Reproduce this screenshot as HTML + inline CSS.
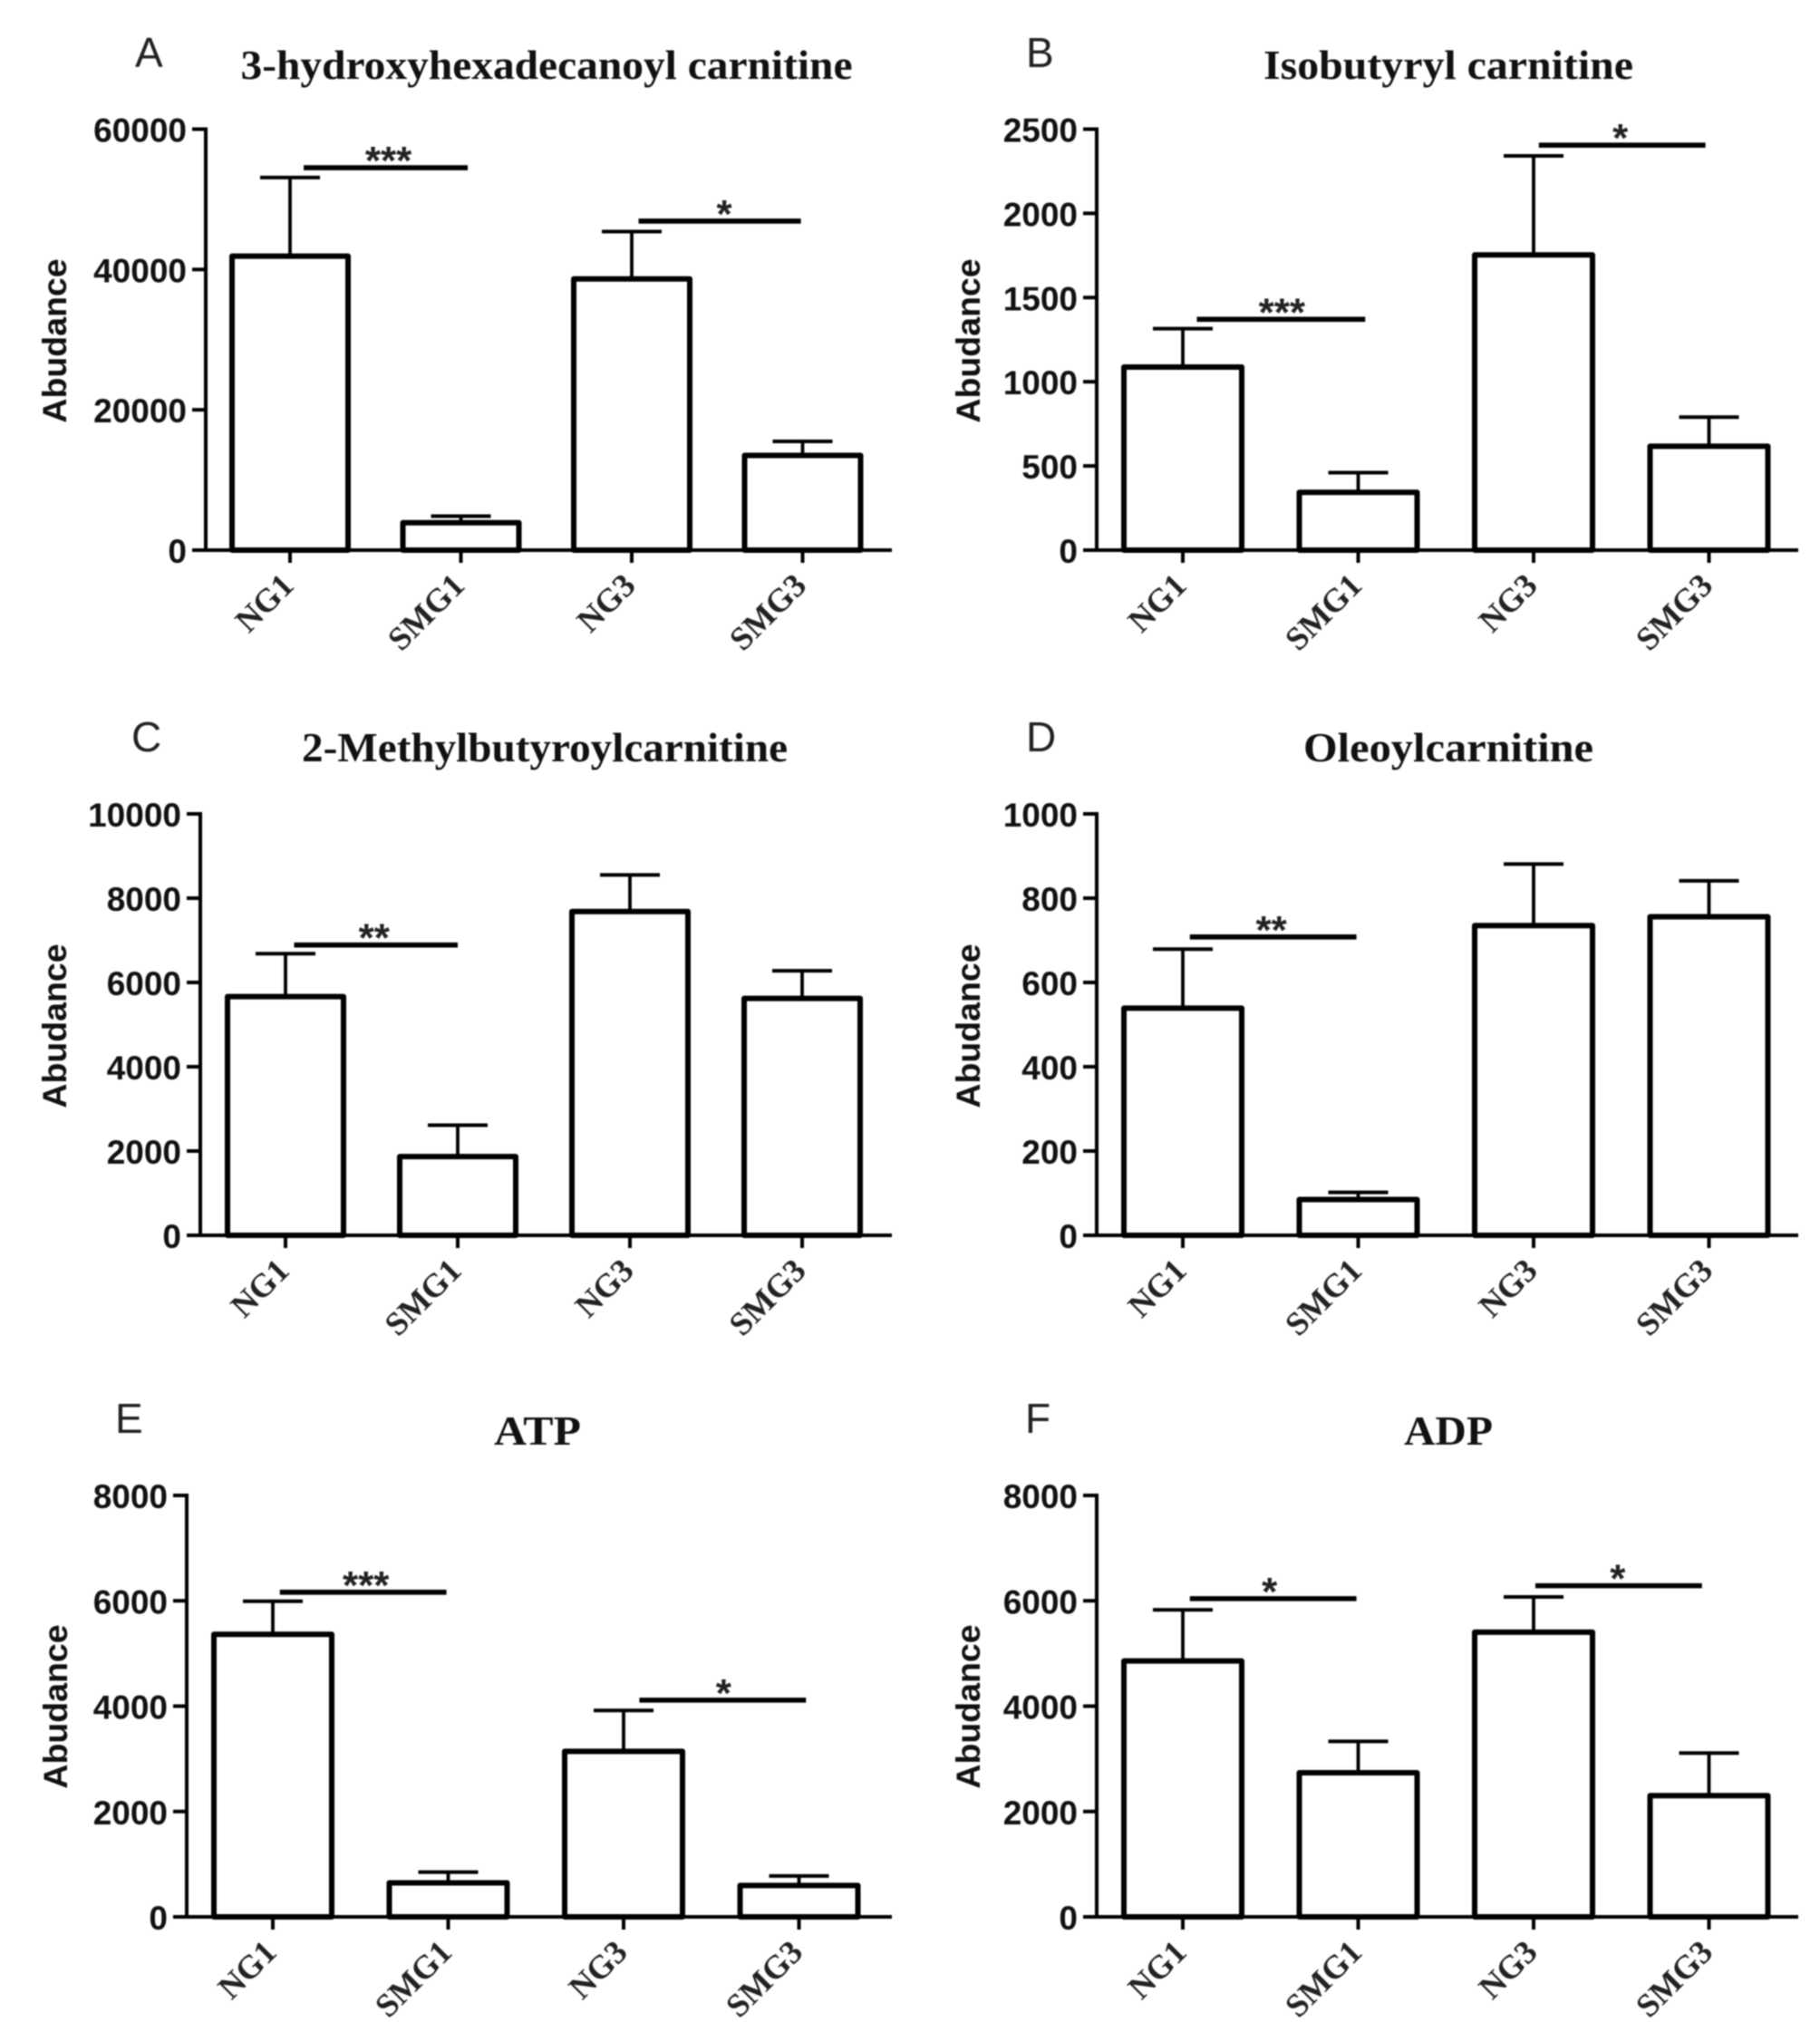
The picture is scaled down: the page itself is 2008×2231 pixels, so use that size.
<!DOCTYPE html>
<html>
<head>
<meta charset="utf-8">
<title>Abundance bar charts</title>
<style>
html,body{margin:0;padding:0;background:#fff;width:2008px;height:2231px;overflow:hidden}
svg{display:block;filter:blur(0.9px)}
.tick{font-family:"Liberation Sans",sans-serif;font-weight:700;font-size:37px;fill:#111}
.ylab{font-family:"Liberation Sans",sans-serif;font-weight:700;font-size:37.5px;fill:#111}
.title{font-family:"Liberation Serif",serif;font-weight:700;font-size:46px;fill:#111}
.cat{font-family:"Liberation Serif",serif;font-weight:700;font-size:36.5px;fill:#222}
.letter{font-family:"Liberation Sans",sans-serif;font-size:46px;fill:#222}
.star{font-family:"Liberation Sans",sans-serif;font-weight:700;font-size:44px;fill:#222}
</style>
</head>
<body>
<svg id="figure" xmlns="http://www.w3.org/2000/svg" width="2008" height="2231" viewBox="0 0 2008 2231"></svg>
<script>
const categories = ["NG1", "SMG1", "NG3", "SMG3"];

const ticksA = [0, 20000, 40000, 60000];
const meansA = [41900, 3900, 38650, 13500];
const errTopsA = [53100, 4850, 45400, 15500];
const sigFromA = [0.08, 2.04];
const sigToA = [1.04, 2.99];
const sigValA = [54500, 46900];
const sigTextA = ["***", "*"];

const ticksB = [0, 500, 1000, 1500, 2000, 2500];
const meansB = [1087, 343, 1753, 617];
const errTopsB = [1315, 460, 2341, 790];
const sigFromB = [0.08, 2.03];
const sigToB = [1.04, 2.98];
const sigValB = [1371, 2405];
const sigTextB = ["***", "*"];

const ticksC = [0, 2000, 4000, 6000, 8000, 10000];
const meansC = [5663, 1867, 7684, 5622];
const errTopsC = [6684, 2612, 8551, 6276];
const sigFromC = [0.05];
const sigToC = [1.0];
const sigValC = [6888];
const sigTextC = ["**"];

const ticksD = [0, 200, 400, 600, 800, 1000];
const meansD = [539, 85, 735, 756];
const errTopsD = [679, 102, 881, 841];
const sigFromD = [0.04];
const sigToD = [0.99];
const sigValD = [708];
const sigTextD = ["**"];

const ticksE = [0, 2000, 4000, 6000, 8000];
const meansE = [5363, 645, 3143, 596];
const errTopsE = [5992, 849, 3918, 776];
const sigFromE = [0.04, 2.09];
const sigToE = [0.99, 3.04];
const sigValE = [6163, 4114];
const sigTextE = ["***", "*"];

const ticksF = [0, 2000, 4000, 6000, 8000];
const meansF = [4857, 2735, 5404, 2302];
const errTopsF = [5829, 3331, 6073, 3110];
const sigFromF = [0.04, 2.01];
const sigToF = [0.99, 2.96];
const sigValF = [6041, 6286];
const sigTextF = ["*", "*"];

const panels = [
  {id:"a", letter:"A", title:"3-hydroxyhexadecanoyl carnitine", ticks:ticksA, means:meansA, errs:errTopsA, sf:sigFromA, st:sigToA, sv:sigValA, sl:sigTextA, so:[1,3],
   x0:227, xEnd:984, yTop:142.5, yBase:607, c0:320, step:188.5, hw:67, tx:603, ty:87, tw:675, lx:149, ly:74, yLabX:73, yLabY:376},
  {id:"b", letter:"B", title:"Isobutyryl carnitine", ticks:ticksB, means:meansB, errs:errTopsB, sf:sigFromB, st:sigToB, sv:sigValB, sl:sigTextB, so:[-1,-4],
   x0:1210, xEnd:1984, yTop:142.5, yBase:607, c0:1305, step:193.5, hw:68, tx:1598, ty:87, tw:408, lx:1132, ly:74, yLabX:1081, yLabY:376},
  {id:"c", letter:"C", title:"2-Methylbutyroylcarnitine", ticks:ticksC, means:meansC, errs:errTopsC, sf:sigFromC, st:sigToC, sv:sigValC, sl:sigTextC, so:[-4],
   x0:221, xEnd:984, yTop:898, yBase:1363, c0:315, step:190, hw:67, tx:601, ty:840, tw:536, lx:145, ly:829, yLabX:73, yLabY:1132},
  {id:"d", letter:"D", title:"Oleoylcarnitine", ticks:ticksD, means:meansD, errs:errTopsD, sf:sigFromD, st:sigToD, sv:sigValD, sl:sigTextD, so:[-4],
   x0:1210, xEnd:1984, yTop:898, yBase:1363, c0:1305, step:193.5, hw:68, tx:1598, ty:840, tw:320, lx:1132, ly:829, yLabX:1081, yLabY:1132},
  {id:"e", letter:"E", title:"ATP", ticks:ticksE, means:meansE, errs:errTopsE, sf:sigFromE, st:sigToE, sv:sigValE, sl:sigTextE, so:[1,-1],
   x0:206, xEnd:984, yTop:1650, yBase:2115, c0:301, step:193.5, hw:68, tx:593, ty:1594, tw:96, lx:127, ly:1581, yLabX:74, yLabY:1883},
  {id:"f", letter:"F", title:"ADP", ticks:ticksF, means:meansF, errs:errTopsF, sf:sigFromF, st:sigToF, sv:sigValF, sl:sigTextF, so:[-6,-3],
   x0:1210, xEnd:1984, yTop:1650, yBase:2115, c0:1305, step:193.5, hw:68, tx:1598, ty:1594, tw:98, lx:1131, ly:1581, yLabX:1081, yLabY:1883}
];

const NS = "http://www.w3.org/2000/svg";
const svg = document.getElementById("figure");

function make(parent, tag, attrs, text) {
  const el = document.createElementNS(NS, tag);
  for (const k in attrs) el.setAttribute(k, attrs[k]);
  if (text !== undefined) el.textContent = text;
  parent.appendChild(el);
  return el;
}

function drawLine(parent, x1, y1, x2, y2, w, color) {
  return make(parent, "line", {x1:x1, y1:y1, x2:x2, y2:y2, stroke:color || "#000", "stroke-width":w});
}

panels.forEach(function (p) {
  const yMax = p.ticks[p.ticks.length - 1];
  const yScale = function (v) { return p.yBase - (v / yMax) * (p.yBase - p.yTop); };
  const xScale = function (i) { return p.c0 + i * p.step; };

  const g = make(svg, "g", {});
  
  

  const letter = make(g, "text", {class:"letter", x:p.lx, y:p.ly}, p.letter);
  
  

  const title = make(g, "text", {class:"title", x:p.tx, y:p.ty, "text-anchor":"middle", textLength:p.tw, lengthAdjust:"spacingAndGlyphs"}, p.title);
  
  

  const yLabel = make(g, "text", {class:"ylab", "text-anchor":"middle", transform:"translate(" + p.yLabX + "," + p.yLabY + ") rotate(-90)"}, "Abudance");
  
  

  categories.forEach(function (cat, i) {
    const cx = xScale(i);
    const err = drawLine(g, cx, yScale(p.means[i]), cx, yScale(p.errs[i]), 3.8);
    
    
    const cap = drawLine(g, cx - 33, yScale(p.errs[i]), cx + 33, yScale(p.errs[i]), 4);
    
    
    const bar = make(g, "rect", {x:cx - p.hw + 3, y:yScale(p.means[i]), width:2 * p.hw - 6, height:yScale(0) - yScale(p.means[i]), fill:"#fff", stroke:"#000", "stroke-width":6, "stroke-linejoin":"round"});
    
    
    const tick = drawLine(g, cx, p.yBase, cx, p.yBase + 14, 4);
    
    
    const lab = make(g, "text", {class:"cat", "text-anchor":"end", transform:"translate(" + (cx + 6) + "," + (p.yBase + 41) + ") rotate(-45)"}, cat);
    
    
  });

  const yAxis = drawLine(g, p.x0, p.yTop - 2, p.x0, p.yBase + 2, 4);
  
  
  const xAxis = drawLine(g, p.x0 - 15, p.yBase, p.xEnd, p.yBase, 4);
  
  

  p.ticks.forEach(function (v) {
    const ty = yScale(v);
    const t = drawLine(g, p.x0 - 15, ty, p.x0, ty, 4);
    
    
    const lab = make(g, "text", {class:"tick", x:p.x0 - 21, y:ty + 14, "text-anchor":"end"}, String(v));
    
    
  });

  p.sv.forEach(function (v, j) {
    const xa = xScale(p.sf[j]);
    const xb = xScale(p.st[j]);
    const sy = yScale(v);
    const line = drawLine(g, xa, sy, xb, sy, 5.6);
    
    
    const star = make(g, "text", {class:"star", x:(xa + xb) / 2 + 2 + p.so[j], y:sy + 7, "text-anchor":"middle"}, p.sl[j]);
    
    
  });
});
</script>
</body>
</html>
